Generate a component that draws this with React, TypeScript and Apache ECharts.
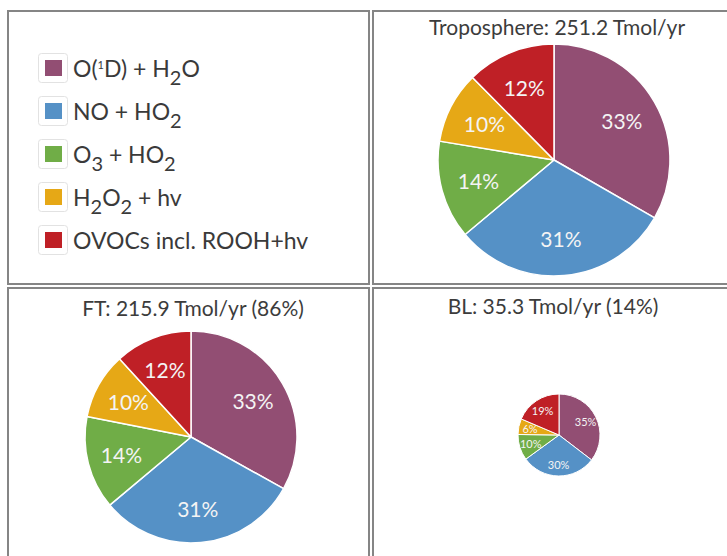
import React, { useEffect, useRef } from "react";
import * as echarts from "echarts";

const categories = ["O(1D) + H2O", "NO + HO2", "O3 + HO2", "H2O2 + hv", "OVOCs incl. ROOH+hv"];
const legendRich = [
  "{t|O(}{sup|1}{t|D) + H}{sub|2}{t|O}",
  "{t|NO + HO}{sub|2}",
  "{t|O}{sub|3}{t| + HO}{sub|2}",
  "{t|H}{sub|2}{t|O}{sub|2}{t| + hv}",
  "{t|OVOCs incl. ROOH+hv}",
];
const colors = ["#924e73", "#5591c6", "#70ad47", "#e6a816", "#bf2026"];

// percent shares
const tropoValues = [33.3, 30.6, 13.7, 10.0, 12.4];
const ftValues = [33.1, 30.8, 14.2, 10.1, 11.8];
const blValues = [35.4, 29.6, 10.2, 6.2, 18.6];

const titles = ["Troposphere: 251.2 Tmol/yr", "FT: 215.9 Tmol/yr (86%)", "BL: 35.3 Tmol/yr (14%)"];

const FONT = "Lato";

export default function App() {
  const ref = useRef<HTMLDivElement>(null);
  useEffect(() => {
    if (!ref.current) return;
    const chart = echarts.init(ref.current, null, { renderer: "svg" });

    const mk = (vals: number[]) => vals.map((v, i) => ({ name: categories[i], value: v }));

    const pies = [
      { vals: tropoValues, cx: 554, cy: 160, r: 116, fs: 21 },
      { vals: ftValues, cx: 191, cy: 437, r: 106, fs: 21 },
      { vals: blValues, cx: 559, cy: 435, r: 41, fs: 11 },
    ];

    const series: any[] = [];
    pies.forEach((p) => {
      series.push({
        type: "pie",
        center: [p.cx, p.cy],
        radius: [0, p.r],
        startAngle: 90,
        clockwise: true,
        data: mk(p.vals),
        label: { show: false },
        labelLine: { show: false },
        itemStyle: { borderColor: "#ffffff", borderWidth: p.r > 60 ? 1.5 : 1 },
        emphasis: { disabled: true },
        silent: true,
      });
    });
    pies.forEach((p) => {
      series.push({
        type: "pie",
        center: [p.cx, p.cy],
        radius: [p.r * 0.3, p.r],
        startAngle: 90,
        clockwise: true,
        data: mk(p.vals),
        itemStyle: { color: "rgba(0,0,0,0)", borderWidth: 0 },
        label: {
          show: true,
          position: "inside",
          color: "#f4f4f4",
          fontFamily: FONT,
          fontSize: p.fs,
          formatter: (q: any) => Math.round(q.percent) + "%",
        },
        labelLine: { show: false },
        emphasis: { disabled: true },
        silent: true,
        z: 3,
      });
    });

    const legendY0 = 68;
    const legendStep = 43;
    const legendItems: any[] = [];
    categories.forEach((_, i) => {
      const cy = legendY0 + i * legendStep;
      legendItems.push({
        type: "rect",
        shape: { x: 38.5, y: cy - 14.5, width: 29, height: 29, r: 3 },
        style: { fill: "#ffffff", stroke: "#e2e2e2", lineWidth: 1 },
        z: 1,
      });
      legendItems.push({
        type: "rect",
        shape: { x: 45, y: cy - 8, width: 17, height: 16 },
        style: { fill: colors[i] },
        z: 2,
      });
      legendItems.push({
        type: "text",
        x: 73,
        y: cy,
        z: 2,
        style: {
          text: legendRich[i],
          verticalAlign: "middle",
          align: "left",
          rich: {
            t: { fontFamily: FONT, fontSize: 23, fill: "#3a3a3a", lineHeight: 24 },
            sub: { fontFamily: FONT, fontSize: 20, fill: "#3a3a3a", lineHeight: 24, padding: [17, 0, 0, 0] },
            sup: { fontFamily: FONT, fontSize: 11, fill: "#3a3a3a", lineHeight: 24, padding: [0, 0, 8, 0] },
          },
        },
      });
    });

    const border = { stroke: "#858585", lineWidth: 2, fill: "none" };
    const panels = [
      { x: 8, y: 11, width: 361, height: 273 },
      { x: 373, y: 11, width: 360, height: 273 },
      { x: 8, y: 288, width: 361, height: 280 },
      { x: 373, y: 288, width: 360, height: 280 },
    ].map((s) => ({ type: "rect", shape: s, style: border, z: 0 }));

    chart.setOption({
      animation: false,
      color: colors,
      textStyle: { fontFamily: FONT },
      title: [
        { text: titles[0], left: 557, top: 16 },
        { text: titles[1], left: 193, top: 297 },
        { text: titles[2], left: 553, top: 295 },
      ].map((t) => ({
        ...t,
        textAlign: "center",
        padding: 0,
        textStyle: { fontFamily: FONT, fontSize: 21, fontWeight: "normal", color: "#3c3c3c" },
      })),
      graphic: [...panels, ...legendItems],
      series,
    });
    return () => chart.dispose();
  }, []);
  return (
    <div
      ref={ref}
      style={{ position: "fixed", left: 0, top: 0, width: 727, height: 556, background: "#ffffff" }}
    />
  );
}
